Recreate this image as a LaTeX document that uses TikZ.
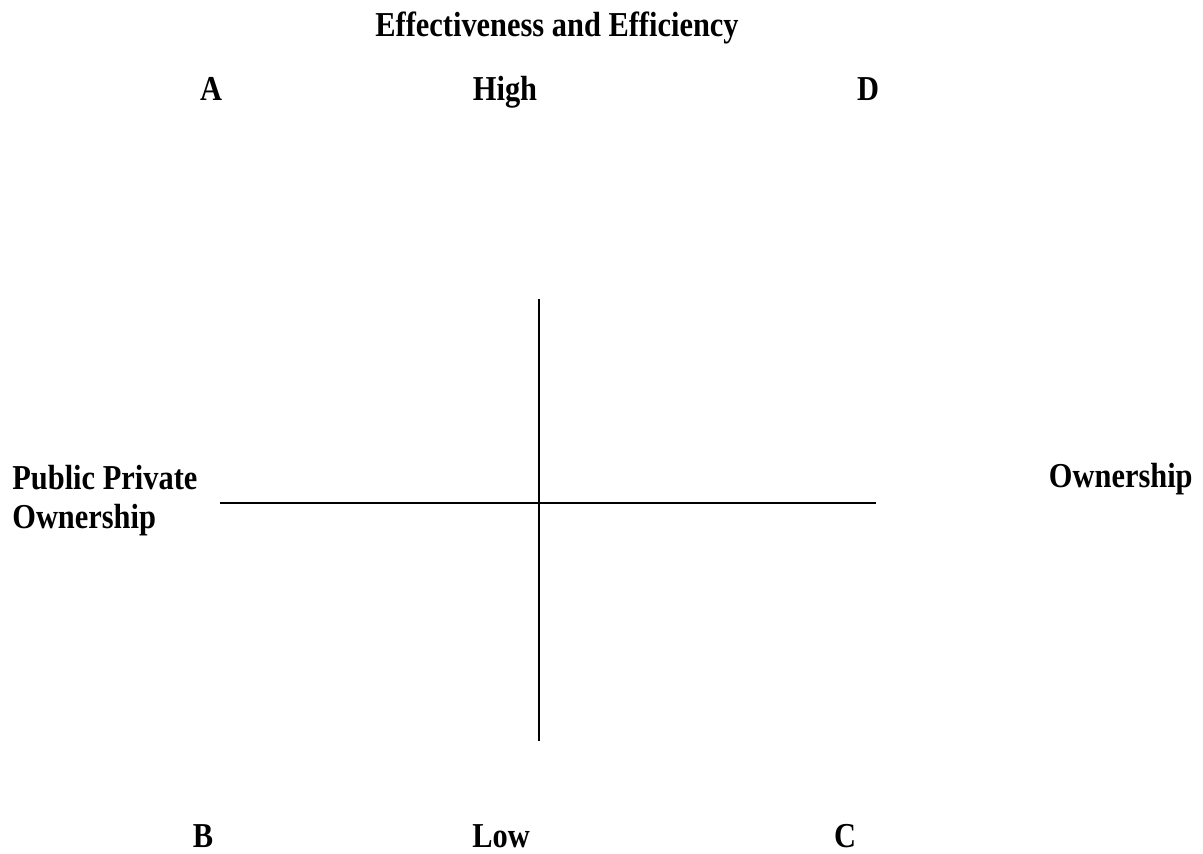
\documentclass[tikz,border=0pt]{standalone}
\usepackage{fontspec}
\setmainfont{Liberation Serif}[FakeStretch=0.87]
\usetikzlibrary{positioning}

\tikzset{
  lbl/.style={font=\fontsize{19.9}{22}\selectfont\bfseries, inner sep=0pt, anchor=base},
  axis/.style={line width=0.8pt}
}

\begin{document}
\begin{tikzpicture}[x=0.02cm, y=-0.02cm]
        % Frame of the page
        \useasboundingbox (0, 0) rectangle (1203, 854);
        
        % Title
        \node[lbl] (title) at (557, 37) {Effectiveness and Efficiency};
        
        % Top row
        \node[lbl] (qa) at (211, 101) {A};
        \node[lbl] (high) at (505, 101) {High};
        \node[lbl] (qd) at (868, 101) {D};
        
        % Bottom row
        \node[lbl] (qb) at (203, 847) {B};
        \node[lbl] (low) at (501, 847) {Low};
        \node[lbl] (qc) at (845, 847) {C};
        
        % Side labels
        \node[lbl, anchor=base west, align=left] (pub) at (12, 528) {Public Private\\Ownership};
        \node[lbl, anchor=base east] (own) at (1193, 487) {Ownership};
        
        % Axes
        \coordinate (top) at (539, 299);
        \coordinate (bot) at (539, 741);
        \coordinate (lft) at (220, 503);
        \coordinate (rgt) at (876, 503);
        \draw[axis] (top) -- (bot);
        \draw[axis] (lft) -- (rgt);
    \end{tikzpicture}
\end{document}
